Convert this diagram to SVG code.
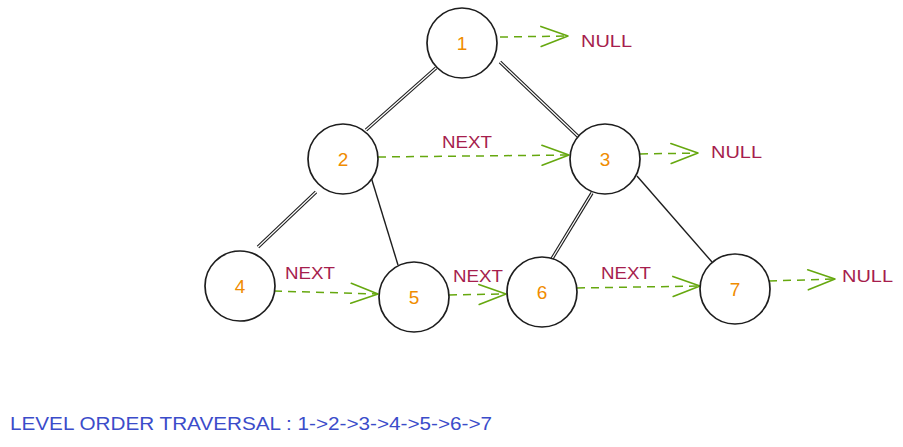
<svg xmlns="http://www.w3.org/2000/svg" width="903" height="447" viewBox="0 0 903 447">
<defs>
<style>
.node circle{fill:#fff;stroke:#1e1e1e;stroke-width:1.7}
.num{font-family:"Liberation Sans",Arial,sans-serif;font-size:19px;fill:#f08c00;text-anchor:middle;dominant-baseline:central}
.lbl{font-family:"Liberation Sans",Arial,sans-serif;font-size:17px;fill:#a61e4d}
.dbl{stroke:#1e1e1e;stroke-width:3.4;fill:none}
.dblin{stroke:#fff;stroke-width:1.2;fill:none}
.sgl{stroke:#1e1e1e;stroke-width:1.4;fill:none}
.nx{stroke:#66a80f;stroke-width:1.5;stroke-dasharray:8 6;fill:none;marker-end:url(#ah)}
.title{font-family:"Liberation Sans",Arial,sans-serif;font-size:18px;fill:#3b4cca}
</style>
<marker id="ah" markerUnits="userSpaceOnUse" markerWidth="40" markerHeight="30" refX="0" refY="0" viewBox="-30 -15 40 30" orient="auto" overflow="visible">
<path d="M-27,-10 L0,0 L-27,10" fill="none" stroke="#66a80f" stroke-width="1.6" stroke-linecap="round" stroke-linejoin="round"/>
</marker>
</defs>
<g id="connectors">
<path class="dbl" d="M436,68 L366,130"/><path class="dblin" d="M436,68 L366,130"/>
<path class="dbl" d="M500,62 L585,143"/><path class="dblin" d="M500,62 L585,143"/>
<path class="dbl" d="M316,192 L258,247"/><path class="dblin" d="M316,192 L258,247"/>
<path class="sgl" d="M371,177 L398,265"/>
<path class="dbl" d="M592,193 L550,262"/><path class="dblin" d="M592,193 L550,262"/>
<path class="sgl" d="M637,176 L712,262"/>
<path class="nx" d="M500,37 L568,36"/>
<path class="nx" d="M378,157 L569,155"/>
<path class="nx" d="M640,154 L698,153"/>
<path class="nx" d="M274,291 L378,294"/>
<path class="nx" d="M449,295 L506,294"/>
<path class="nx" d="M577,288 L700,286"/>
<path class="nx" d="M769,281 L835,279"/>
</g>
<g id="labels">
<text class="lbl" x="581" y="47" textLength="51" lengthAdjust="spacingAndGlyphs">NULL</text>
<text class="lbl" x="711" y="158" textLength="51" lengthAdjust="spacingAndGlyphs">NULL</text>
<text class="lbl" x="842" y="282" textLength="51" lengthAdjust="spacingAndGlyphs">NULL</text>
<text class="lbl" x="442" y="148" textLength="50" lengthAdjust="spacingAndGlyphs">NEXT</text>
<text class="lbl" x="285" y="279" textLength="50" lengthAdjust="spacingAndGlyphs">NEXT</text>
<text class="lbl" x="453" y="282" textLength="50" lengthAdjust="spacingAndGlyphs">NEXT</text>
<text class="lbl" x="601" y="279" textLength="50" lengthAdjust="spacingAndGlyphs">NEXT</text>
</g>
<g id="node1" class="node"><circle cx="462" cy="43" r="35"/><text class="num" x="462" y="43">1</text></g>
<g id="node2" class="node"><circle cx="343" cy="159" r="35"/><text class="num" x="343" y="159">2</text></g>
<g id="node3" class="node"><circle cx="605" cy="159" r="35"/><text class="num" x="605" y="159">3</text></g>
<g id="node4" class="node"><circle cx="240" cy="286" r="35"/><text class="num" x="240" y="286">4</text></g>
<g id="node5" class="node"><circle cx="414" cy="297" r="35"/><text class="num" x="414" y="297">5</text></g>
<g id="node6" class="node"><circle cx="542" cy="292" r="35"/><text class="num" x="542" y="292">6</text></g>
<g id="node7" class="node"><circle cx="735" cy="289" r="35"/><text class="num" x="735" y="289">7</text></g>
<text class="title" x="10" y="430" textLength="482" lengthAdjust="spacingAndGlyphs">LEVEL ORDER TRAVERSAL : 1-&gt;2-&gt;3-&gt;4-&gt;5-&gt;6-&gt;7</text>
</svg>
